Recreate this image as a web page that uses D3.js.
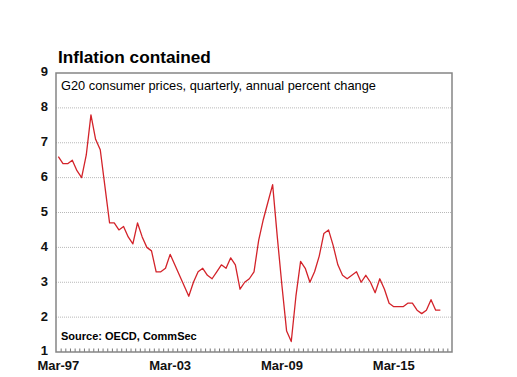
<!DOCTYPE html>
<html>
<head>
<meta charset="utf-8">
<script src="https://cdn.jsdelivr.net/npm/d3@7"></script>
<style>
  body { margin: 0; background: #fff; }
  svg { font-family: Arial, "Liberation Sans", sans-serif; }
</style>
</head>
<body>
<div id="chart"></div>
<script>
// G20 CPI, quarterly, annual % change, Mar-97 onwards
const cpi = [
  6.6, 6.4, 6.4, 6.5, 6.2, 6.0, 6.65, 7.8, 7.1, 6.8,
  5.75, 4.7, 4.7, 4.5, 4.6, 4.3, 4.1, 4.7, 4.3, 4.0,
  3.9, 3.3, 3.3, 3.4, 3.8, 3.5, 3.2, 2.9, 2.6, 3.0,
  3.3, 3.4, 3.2, 3.1, 3.3, 3.5, 3.4, 3.7, 3.5, 2.8,
  3.0, 3.1, 3.3, 4.2, 4.8, 5.3, 5.8, 4.3, 2.9, 1.6,
  1.3, 2.6, 3.6, 3.4, 3.0, 3.3, 3.75, 4.4, 4.5, 4.05,
  3.5, 3.2, 3.1, 3.2, 3.3, 3.0, 3.2, 3.0, 2.7, 3.1,
  2.8, 2.4, 2.3, 2.3, 2.3, 2.4, 2.4, 2.2, 2.1, 2.2,
  2.5, 2.2, 2.2
];
const months = ["Mar", "Jun", "Sep", "Dec"];
const nCats = 85; // category axis runs to Mar-18
const quarters = [];
for (let i = 0; i < nCats; i++) {
  const yr = 1997 + Math.floor(i / 4);
  quarters.push(months[i % 4] + "-" + String(yr).slice(2));
}
const xLabels = ["Mar-97", "Mar-03", "Mar-09", "Mar-15"];
const yTicks = [1, 2, 3, 4, 5, 6, 7, 8, 9];

const W = 517, H = 377;
const margin = {top: 73, right: 65, bottom: 25, left: 56};
const width = W - margin.left - margin.right,
      height = H - margin.top - margin.bottom;

const svg = d3.select("#chart").append("svg")
  .attr("width", W).attr("height", H);

const g = svg.append("g")
  .attr("transform", "translate(" + margin.left + "," + margin.top + ")");

var x = d3.scaleBand().domain(quarters).range([0, width]).padding(0);
var y = d3.scaleLinear().domain([1, 9]).range([height, 0]);
const cx = i => x(quarters[i]) + x.bandwidth() / 2;

// title
svg.append("text")
  .attr("x", 58).attr("y", 63)
  .style("font-size", "17.2px").style("font-weight", "bold")
  .text("Inflation contained");

// dotted gridlines
g.append("g").selectAll("line")
  .data(yTicks.filter(d => d > 1 && d < 9))
  .enter().append("line")
  .attr("x1", 0).attr("x2", width)
  .attr("y1", d => y(d)).attr("y2", d => y(d))
  .style("stroke", "#b8b8b8")
  .style("stroke-width", 1)
  .style("stroke-dasharray", "1,1");

// y axis labels
var yAxis = d3.axisLeft(y).tickValues(yTicks).tickFormat(d3.format("d"))
  .tickSize(0).tickPadding(8);
g.append("g").call(yAxis)
  .call(a => a.select(".domain").remove())
  .selectAll("text")
  .attr("dy", "0.22em")
  .style("font-size", "13px").style("font-weight", "bold")
  .style("font-family", "Arial, 'Liberation Sans', sans-serif")
  .attr("fill", "#111");

// minor ticks between quarters, inside plot
g.append("g").selectAll("line")
  .data(quarters.slice(1))
  .enter().append("line")
  .attr("x1", d => x(d) + 0.5).attr("x2", d => x(d) + 0.5)
  .attr("y1", height).attr("y2", height - 3.5)
  .style("stroke", "#777").style("stroke-width", 1);

// x axis labels
var xAxis = d3.axisBottom(x).tickValues(xLabels).tickSize(0).tickPadding(9);
g.append("g")
  .attr("transform", "translate(0," + height + ")")
  .call(xAxis)
  .call(a => a.select(".domain").remove())
  .selectAll("text")
  .style("font-size", "13px").style("font-weight", "bold")
  .style("font-family", "Arial, 'Liberation Sans', sans-serif")
  .attr("fill", "#111");

// plot frame
g.append("rect")
  .attr("x", 0).attr("y", 0)
  .attr("width", width).attr("height", height)
  .style("fill", "none")
  .style("stroke", "#858585")
  .style("stroke-width", 1.5);

// subtitle and source
g.append("text")
  .attr("x", 5).attr("y", 17)
  .style("font-size", "12.8px")
  .text("G20 consumer prices, quarterly, annual percent change");

g.append("text")
  .attr("x", 5).attr("y", height - 12)
  .style("font-size", "11px").style("font-weight", "bold")
  .text("Source: OECD, CommSec");

// the line
var line = d3.line()
  .x((d, i) => cx(i))
  .y(d => y(d));

g.append("path")
  .datum(cpi)
  .attr("d", line)
  .style("fill", "none")
  .style("stroke", "#d3232a")
  .style("stroke-width", 1.3)
  .style("stroke-linejoin", "round");
</script>
</body>
</html>
